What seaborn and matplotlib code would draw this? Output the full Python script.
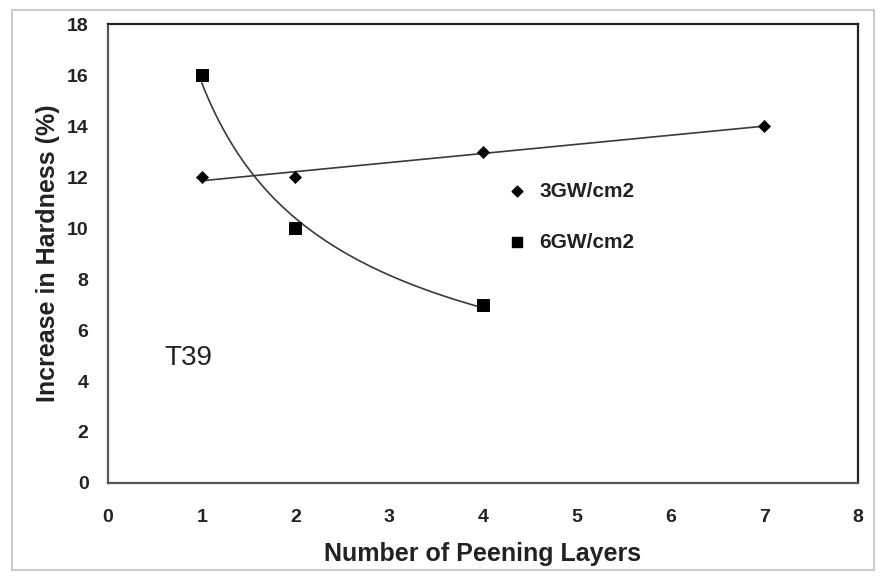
import numpy as np
import pandas as pd
import matplotlib
matplotlib.use("Agg")
import matplotlib.pyplot as plt
import seaborn as sns
from matplotlib.patches import Rectangle

# Measured hardness increase vs. number of peening layers
layers_3gw = [1, 2, 4, 7]
hardness_3gw = [12, 12, 13, 14]
layers_6gw = [1, 2, 4]
hardness_6gw = [16, 10, 7]
series_names = ["3GW/cm2", "6GW/cm2"]
x_ticks = [0, 1, 2, 3, 4, 5, 6, 7, 8]
y_ticks = [0, 2, 4, 6, 8, 10, 12, 14, 16, 18]

sns.set_theme(style="white")
plt.rcParams["font.family"] = ["Liberation Sans", "DejaVu Sans"]

fig = plt.figure(figsize=(8.85, 5.76), dpi=100)
ax = fig.add_axes([0.122, 0.1615, 0.8475, 0.7965])

# Linear trendline for 3 GW/cm2
slope, intercept = np.polyfit(layers_3gw, hardness_3gw, 1)
xl = np.linspace(min(layers_3gw), max(layers_3gw), 50)
trend_lin = pd.DataFrame({"x": xl, "y": slope * xl + intercept})
sns.lineplot(data=trend_lin, x="x", y="y", ax=ax, color="#3a3a3a", lw=1.2)

# Power-law trendline for 6 GW/cm2
b, ln_a = np.polyfit(np.log(layers_6gw), np.log(hardness_6gw), 1)
xp = np.linspace(min(layers_6gw), max(layers_6gw), 100)
trend_pow = pd.DataFrame({"x": xp, "y": np.exp(ln_a) * xp ** b})
sns.lineplot(data=trend_pow, x="x", y="y", ax=ax, color="#3a3a3a", lw=1.2)

d3 = pd.DataFrame({"x": layers_3gw, "y": hardness_3gw})
d6 = pd.DataFrame({"x": layers_6gw, "y": hardness_6gw})
sns.scatterplot(data=d3, x="x", y="y", ax=ax, marker="D", s=38,
                color="black", edgecolor="black", zorder=5)
sns.scatterplot(data=d6, x="x", y="y", ax=ax, marker="s", s=75,
                color="black", edgecolor="black", zorder=5)

ax.set_xlim(0, 8)
ax.set_ylim(0, 18)
ax.set_xticks(x_ticks)
ax.set_yticks(y_ticks)
ax.set_xticklabels([str(t) for t in x_ticks], fontsize=14, fontweight="bold", color="#222222")
ax.set_yticklabels([str(t) for t in y_ticks], fontsize=14, fontweight="bold", color="#222222")
ax.tick_params(axis="x", length=0, pad=19)
ax.tick_params(axis="y", length=0, pad=14)
ax.set_xlabel("Number of Peening Layers", fontsize=18, fontweight="bold",
              color="#222222", labelpad=11)
ax.set_ylabel("Increase in Hardness (%)", fontsize=18, fontweight="bold",
              color="#222222", labelpad=5)

for side in ["top", "right"]:
    ax.spines[side].set_color("#222222")
    ax.spines[side].set_linewidth(1.6)
for side in ["left", "bottom"]:
    ax.spines[side].set_color("#555555")
    ax.spines[side].set_linewidth(1.6)

# In-plot legend
ax.scatter([4.36], [11.45], marker="D", s=30, color="black", zorder=5)
ax.scatter([4.36], [9.45], marker="s", s=60, color="black", zorder=5)
ax.text(4.6, 11.45, series_names[0], fontsize=15, fontweight="bold",
        color="#222222", va="center", ha="left")
ax.text(4.6, 9.45, series_names[1], fontsize=15, fontweight="bold",
        color="#222222", va="center", ha="left")

ax.text(0.6, 4.9, "T39", fontsize=20, color="#222222", va="center", ha="left")

# Light outer frame
fig.patches.append(Rectangle((12 / 885, 6 / 576), 862 / 885, 560 / 576,
                             transform=fig.transFigure, fill=False,
                             edgecolor="#cccccc", lw=1.5))

fig.savefig("out.png", dpi=100)
